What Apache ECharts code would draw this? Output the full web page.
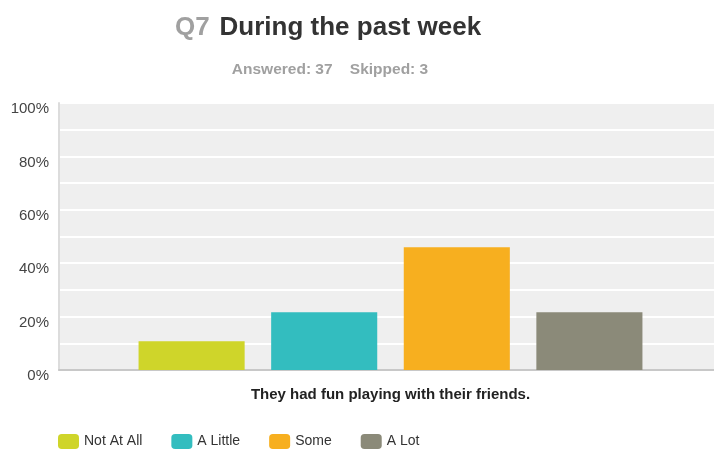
<!DOCTYPE html>
<html>
<head>
<meta charset="utf-8">
<script src="https://cdn.jsdelivr.net/npm/echarts@6/dist/echarts.min.js"></script>
<style>
  html, body { margin: 0; padding: 0; background: #fff; }
  #chart { width: 714px; height: 450px; }
</style>
</head>
<body>
<div id="chart"></div>
<script>
// answers to Q7 (percent of 37 answered)
var categories = ['They had fun playing with their friends.']
var seriesNames = ['Not At All', 'A Little', 'Some', 'A Lot']
var seriesValues = [[10.81], [21.62], [45.95], [21.62]]
var colors = ['#cfd52a', '#33bdbf', '#f7af1f', '#8b8a79']
var yTicks = [0, 20, 40, 60, 80, 100]

var font = '"Liberation Sans", Arial, sans-serif'

var series = []
for (var i = 0; i < seriesNames.length; i++) {
  series.push({
    name: seriesNames[i],
    type: 'bar',
    data: seriesValues[i],
    barGap: '25%',
    barCategoryGap: '24%',
    itemStyle: { color: colors[i] }
  })
}

var myChart = echarts.init(document.getElementById('chart'))
myChart.setOption({
  animation: false,
  textStyle: { fontFamily: font },
  title: [
    {
      text: '{q|Q7}  {t|During the past week}',
      left: 323,
      top: 10,
      textAlign: 'center',
      textStyle: {
        rich: {
          q: { fontSize: 26, fontWeight: 'bold', color: '#a0a0a0', fontFamily: font },
          t: { fontSize: 26, fontWeight: 'bold', color: '#333', fontFamily: font }
        }
      }
    },
    {
      text: 'Answered: 37    Skipped: 3',
      left: 325,
      top: 57,
      textAlign: 'center',
      textStyle: { fontSize: 15.5, fontWeight: 'bold', color: '#a0a0a0', fontFamily: font }
    }
  ],
  legend: {
    top: 434,
    left: 58,
    padding: 0,
    itemWidth: 21,
    itemHeight: 15,
    itemGap: 29,
    icon: 'roundRect',
    textStyle: { fontSize: 14, color: '#333', fontFamily: font },
    data: seriesNames
  },
  grid: {
    left: 59,
    width: 663,
    top: 103,
    bottom: 80,
    outerBoundsMode: 'none',
    show: true,
    backgroundColor: '#efefef',
    borderWidth: 0
  },
  xAxis: {
    type: 'category',
    data: categories,
    axisTick: { show: false },
    axisLine: { lineStyle: { color: '#c8c8c8', width: 2 } },
    axisLabel: { color: '#222', fontWeight: 'bold', fontSize: 15, margin: 17, fontFamily: font }
  },
  yAxis: {
    type: 'value',
    min: 0,
    max: 100,
    interval: 10,
    axisLine: { show: true, lineStyle: { color: '#dcdcdc', width: 2 } },
    axisTick: { show: false },
    splitLine: { lineStyle: { color: '#fff', width: 2 } },
    axisLabel: {
      color: '#444',
      fontSize: 15,
      margin: 10,
      fontFamily: font,
      formatter: function (v) {
        return yTicks.indexOf(v) >= 0 ? '{p|' + v + '%}' : ''
      },
      rich: {
        p: { fontSize: 15, color: '#444', fontFamily: font, padding: [12, 0, 0, 0] }
      }
    }
  },
  series: series
})
</script>
</body>
</html>
